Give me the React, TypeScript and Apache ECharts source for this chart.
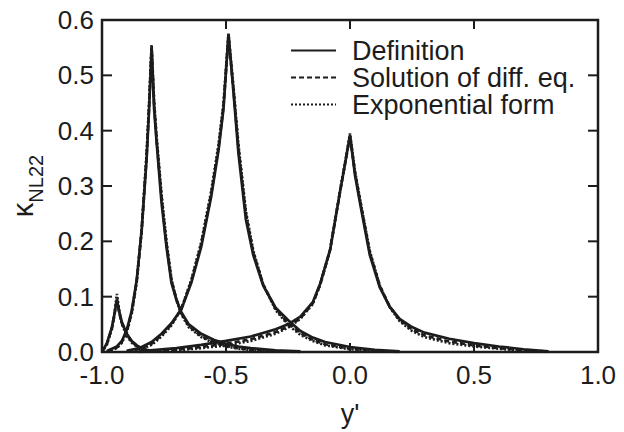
import React, { useEffect, useRef } from "react";
import * as echarts from "echarts";

// ---- data ----
const xTicks = [-1.0, -0.5, 0.0, 0.5, 1.0];
const yTicks = [0.0, 0.1, 0.2, 0.3, 0.4, 0.5, 0.6];

const seriesNames = ["Definition", "Solution of diff. eq.", "Exponential form"];

// peak near y' = -0.94
const x1 = [-1.0, -0.98, -0.96, -0.95, -0.94, -0.93, -0.92, -0.9, -0.88, -0.86, -0.84, -0.82, -0.8];
const def1 = [0.0, 0.016, 0.045, 0.068, 0.095, 0.072, 0.054, 0.033, 0.02, 0.012, 0.007, 0.004, 0.002];
const sol1 = [0.0, 0.015, 0.043, 0.066, 0.096, 0.07, 0.052, 0.031, 0.019, 0.011, 0.006, 0.003, 0.001];
const exp1 = [0.0, 0.014, 0.042, 0.068, 0.105, 0.073, 0.051, 0.029, 0.017, 0.01, 0.006, 0.003, 0.001];

// peak near y' = -0.80
const x2 = [-0.98, -0.94, -0.92, -0.9, -0.88, -0.86, -0.84, -0.82, -0.81, -0.8, -0.79, -0.78, -0.76, -0.74, -0.72, -0.7, -0.68, -0.65, -0.6, -0.55, -0.5, -0.45, -0.4, -0.3, -0.2];
const def2 = [0.002, 0.01, 0.02, 0.04, 0.075, 0.13, 0.22, 0.35, 0.44, 0.55, 0.44, 0.38, 0.27, 0.19, 0.125, 0.095, 0.072, 0.05, 0.033, 0.022, 0.015, 0.01, 0.007, 0.003, 0.001];
const sol2 = [0.001, 0.008, 0.018, 0.037, 0.072, 0.128, 0.22, 0.355, 0.445, 0.55, 0.45, 0.385, 0.28, 0.195, 0.13, 0.095, 0.07, 0.047, 0.029, 0.018, 0.011, 0.007, 0.004, 0.001, 0.0];
const exp2 = [0.001, 0.007, 0.017, 0.036, 0.07, 0.127, 0.222, 0.36, 0.45, 0.555, 0.455, 0.39, 0.285, 0.2, 0.132, 0.094, 0.068, 0.045, 0.027, 0.016, 0.01, 0.006, 0.003, 0.001, 0.0];

// peak near y' = -0.49
const x3 = [-0.9, -0.85, -0.8, -0.76, -0.72, -0.68, -0.64, -0.6, -0.56, -0.53, -0.51, -0.49, -0.47, -0.45, -0.42, -0.39, -0.35, -0.3, -0.25, -0.2, -0.15, -0.1, 0.0, 0.1, 0.2];
const def3 = [0.002, 0.007, 0.018, 0.033, 0.052, 0.077, 0.125, 0.19, 0.28, 0.365, 0.44, 0.575, 0.47, 0.36, 0.24, 0.175, 0.12, 0.08, 0.058, 0.038, 0.026, 0.018, 0.009, 0.004, 0.001];
const sol3 = [0.001, 0.005, 0.015, 0.03, 0.05, 0.078, 0.128, 0.195, 0.285, 0.37, 0.445, 0.57, 0.475, 0.37, 0.25, 0.18, 0.122, 0.078, 0.052, 0.034, 0.022, 0.014, 0.006, 0.002, 0.0];
const exp3 = [0.001, 0.004, 0.013, 0.028, 0.048, 0.078, 0.13, 0.198, 0.29, 0.375, 0.45, 0.575, 0.48, 0.375, 0.255, 0.183, 0.122, 0.076, 0.049, 0.031, 0.02, 0.012, 0.005, 0.002, 0.0];

// peak near y' = 0.0
const x4 = [-0.85, -0.7, -0.6, -0.5, -0.4, -0.3, -0.25, -0.2, -0.15, -0.12, -0.08, -0.04, -0.02, 0.0, 0.02, 0.04, 0.08, 0.12, 0.16, 0.2, 0.25, 0.3, 0.4, 0.5, 0.6, 0.7, 0.8];
const def4 = [0.001, 0.007, 0.013, 0.02, 0.028, 0.041, 0.05, 0.064, 0.09, 0.124, 0.185, 0.29, 0.34, 0.392, 0.32, 0.27, 0.175, 0.117, 0.082, 0.06, 0.045, 0.035, 0.024, 0.016, 0.01, 0.005, 0.001];
const sol4 = [0.0, 0.004, 0.009, 0.015, 0.023, 0.036, 0.046, 0.061, 0.088, 0.122, 0.185, 0.29, 0.34, 0.39, 0.325, 0.275, 0.18, 0.12, 0.082, 0.058, 0.041, 0.03, 0.019, 0.012, 0.007, 0.003, 0.001];
const exp4 = [0.0, 0.003, 0.007, 0.012, 0.02, 0.033, 0.044, 0.06, 0.087, 0.122, 0.186, 0.292, 0.342, 0.395, 0.327, 0.277, 0.182, 0.12, 0.081, 0.056, 0.038, 0.027, 0.016, 0.01, 0.006, 0.002, 0.0];

const peaks = [
  { x: x1, ys: [def1, sol1, exp1] },
  { x: x2, ys: [def2, sol2, exp2] },
  { x: x3, ys: [def3, sol3, exp3] },
  { x: x4, ys: [def4, sol4, exp4] },
];

const INK = "#1c1c1c";
const FONT = "Liberation Sans, Arial, Helvetica, sans-serif";
const lineTypes: any[] = ["solid", [5, 3], [2, 2]];

export default function App() {
  const ref = useRef<HTMLDivElement>(null);
  useEffect(() => {
    if (!ref.current) return;
    const chart = echarts.init(ref.current, undefined, { renderer: "svg" });

    const xMin = xTicks[0];
    const xMax = xTicks[xTicks.length - 1];
    const yMin = yTicks[0];
    const yMax = yTicks[yTicks.length - 1];
    const TX = 9; // x tick length (px)
    const TY = 10; // y tick length (px)

    const series: any[] = [];
    // draw exponential first, definition last
    [2, 1, 0].forEach((si) => {
      peaks.forEach((p) => {
        series.push({
          type: "line",
          name: seriesNames[si],
          data: p.x.map((xv, i) => [xv, p.ys[si][i]]),
          symbol: "none",
          showSymbol: false,
          lineStyle: { color: INK, width: 2.7, type: lineTypes[si] },
          itemStyle: { color: INK },
          silent: true,
        });
      });
    });

    const tickStyle = { stroke: INK, lineWidth: 2, fill: null };
    // inward tick marks on the bottom and top edges
    series.push({
      type: "custom",
      name: "xticks",
      silent: true,
      clip: false,
      z: 5,
      data: xTicks.map((v) => [v, yMin]),
      renderItem: (_p: any, api: any) => {
        const v = api.value(0);
        const b = api.coord([v, yMin]);
        const t = api.coord([v, yMax]);
        return {
          type: "group",
          children: [
            { type: "line", shape: { x1: b[0], y1: b[1], x2: b[0], y2: b[1] - TX }, style: tickStyle },
            { type: "line", shape: { x1: t[0], y1: t[1], x2: t[0], y2: t[1] + TX }, style: tickStyle },
          ],
        };
      },
    });
    // inward tick marks on the left and right edges
    series.push({
      type: "custom",
      name: "yticks",
      silent: true,
      clip: false,
      z: 5,
      data: yTicks.map((v) => [xMin, v]),
      renderItem: (_p: any, api: any) => {
        const v = api.value(1);
        const l = api.coord([xMin, v]);
        const r = api.coord([xMax, v]);
        return {
          type: "group",
          children: [
            { type: "line", shape: { x1: l[0], y1: l[1], x2: l[0] + TY, y2: l[1] }, style: tickStyle },
            { type: "line", shape: { x1: r[0], y1: r[1], x2: r[0] - TY, y2: r[1] }, style: tickStyle },
          ],
        };
      },
    });

    const fmt = (v: number) => v.toFixed(1);

    chart.setOption({
      animation: false,
      backgroundColor: "#ffffff",
      grid: {
        left: 98,
        right: 26,
        top: 20,
        bottom: 78,
        show: true,
        borderColor: INK,
        borderWidth: 2.5,
        backgroundColor: "transparent",
      },
      legend: {
        data: seriesNames,
        orient: "vertical",
        left: 290,
        top: 37,
        padding: 0,
        itemGap: 0,
        itemWidth: 45,
        itemHeight: 1,
        selectedMode: false,
        textStyle: {
          fontFamily: FONT,
          fontSize: 27,
          color: INK,
          lineHeight: 26,
          padding: [0, 0, 0, 11],
        },
      },
      xAxis: {
        type: "value",
        min: xMin,
        max: xMax,
        interval: 0.5,
        name: "y'",
        nameLocation: "middle",
        nameGap: 48,
        nameTextStyle: { fontFamily: FONT, fontSize: 27, color: INK },
        axisLine: { show: false, onZero: false },
        axisTick: { show: false },
        axisLabel: { formatter: fmt, fontFamily: FONT, fontSize: 26, color: INK, margin: 10 },
        splitLine: { show: false },
      },
      yAxis: {
        type: "value",
        min: yMin,
        max: yMax,
        interval: 0.1,
        name: "{k|κ}{s|NL22}",
        nameLocation: "middle",
        nameGap: 56,
        nameTextStyle: {
          color: INK,
          fontFamily: FONT,
          rich: {
            k: { fontSize: 29, fontFamily: FONT, color: INK, verticalAlign: "top", lineHeight: 29 },
            s: { fontSize: 20, fontFamily: FONT, color: INK, verticalAlign: "bottom", lineHeight: 38 },
          },
        },
        axisLine: { show: false, onZero: false },
        axisTick: { show: false },
        axisLabel: { formatter: fmt, fontFamily: FONT, fontSize: 26, color: INK, margin: 8 },
        splitLine: { show: false },
      },
      series,
    });
    return () => chart.dispose();
  }, []);
  return (
    <div
      ref={ref}
      style={{ position: "fixed", left: 0, top: 0, width: 624, height: 432, background: "#fff" }}
    />
  );
}
